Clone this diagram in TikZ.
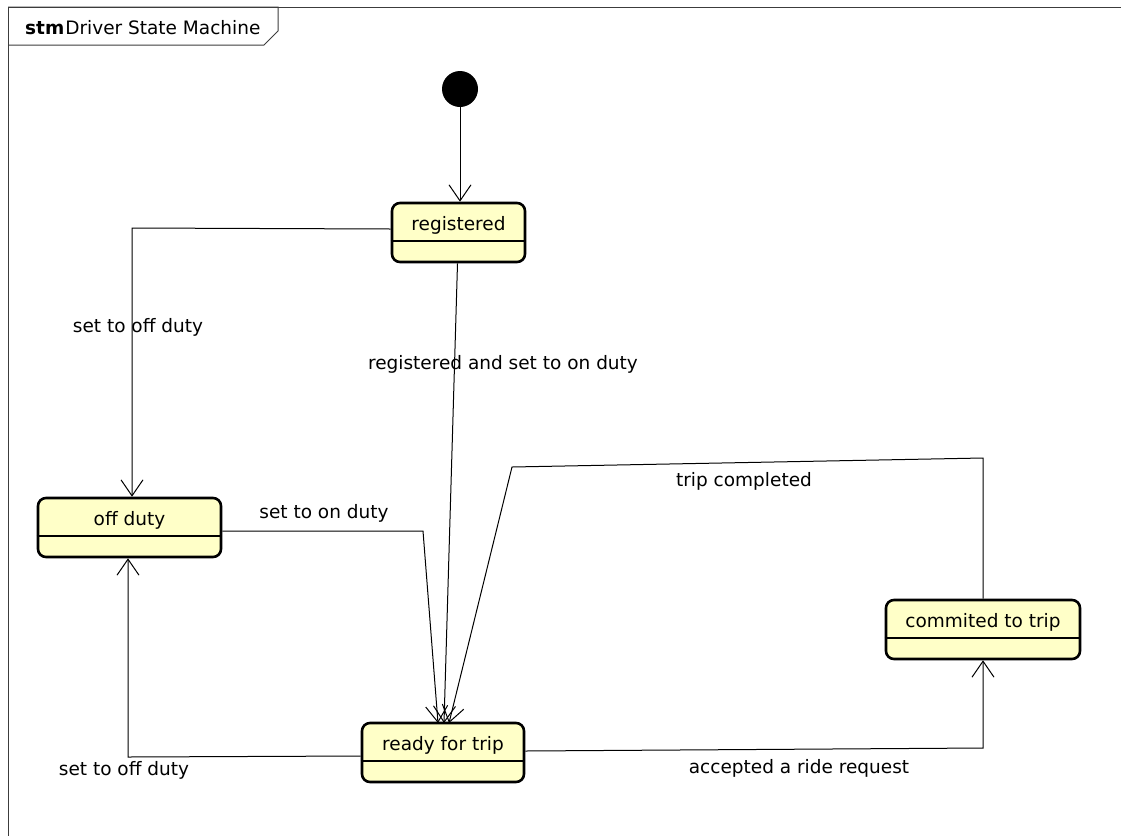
\documentclass[tikz,border=0pt]{standalone}
\usepackage{fontspec}
\setmainfont{DejaVu Sans}
\usetikzlibrary{arrows.meta}
\definecolor{statefill}{RGB}{255,255,200}
\definecolor{framegray}{RGB}{60,60,60}
\begin{document}
\begin{tikzpicture}[x=1pt,y=-1pt,
  font=\fontsize{18.5}{22}\selectfont,
  statebox/.style={draw=black, line width=2.6pt, fill=statefill, rounded corners=8pt,
    rectangle, inner xsep=0pt, inner ysep=0pt, text height=27pt, text depth=32pt},
  trans/.style={draw=black, line width=1pt,
    -{Straight Barb[length=16pt,width=22pt,line width=1pt]}},
  lbl/.style={inner sep=0pt, anchor=center}]
  \useasboundingbox (0,0) rectangle (1121,836);

  % diagram frame and its name tab
  \draw[framegray, line width=1pt] (1121,7) -- (8,7) -- (8,836);
  \draw[framegray, line width=1pt] (8,7) -- (278,7) -- (278,31) -- (264,45) -- (8,45);
  \node[anchor=base west, inner sep=0pt] (title) at (25,34)
    {\textbf{stm}\hspace{1pt}Driver State Machine};

  % initial pseudostate
  \node[circle, fill=black, minimum size=36pt, inner sep=0pt] (init) at (460,89) {};

  % states
  \node[statebox, minimum width=133pt] (reg)    at (458.5,232.5) {registered};
  \node[statebox, minimum width=183pt] (off)    at (129.5,527.5) {off duty};
  \node[statebox, minimum width=162pt] (ready)  at (443,752.5)   {ready for trip};
  \node[statebox, minimum width=194pt] (commit) at (983,629.5)   {commited to trip};

  % compartment separators
  \foreach \s in {reg,off,ready,commit}
    \draw[line width=1.2pt] ([yshift=-8.5pt]\s.west) -- ([yshift=-8.5pt]\s.east);

  % bend points and arrival points
  \coordinate (c1) at (132,228);
  \coordinate (c2) at (423,531);
  \coordinate (c3) at (128,757);
  \coordinate (c4) at (983,748);
  \coordinate (c5) at (983,458);
  \coordinate (c6) at (512,467);
  \coordinate (inA) at (438,723);
  \coordinate (inB) at (444,723);
  \coordinate (inC) at (449,723);

  % transitions
  \draw[trans] ([yshift=3.5pt]reg.west) -- (c1) -- (c1 |- off.north);
  \draw[trans] (init.south) -- (init.south |- reg.north);
  \draw[trans] ([xshift=-1pt]reg.south) -- (inB);
  \draw[trans] ([yshift=-3.5pt]off.east) -- (c2) -- (inA);
  \draw[trans] ([yshift=-3.5pt]ready.west) -- (c3) -- (c3 |- off.south);
  \draw[trans] ([yshift=1.5pt]ready.east) -- (c4) -- (commit.south);
  \draw[trans] (commit.north) -- (c5) -- (c6) -- (inC);

  % transition labels
  \node[lbl] (l1) at (138,327) {set to off duty};
  \node[lbl] (l2) at (503,364) {registered and set to on duty};
  \node[lbl] (l3) at (324,513) {set to on duty};
  \node[lbl] (l4) at (744,481) {trip completed};
  \node[lbl] (l5) at (124,770) {set to off duty};
  \node[lbl] (l6) at (799,768) {accepted a ride request};
\end{tikzpicture}
\end{document}
